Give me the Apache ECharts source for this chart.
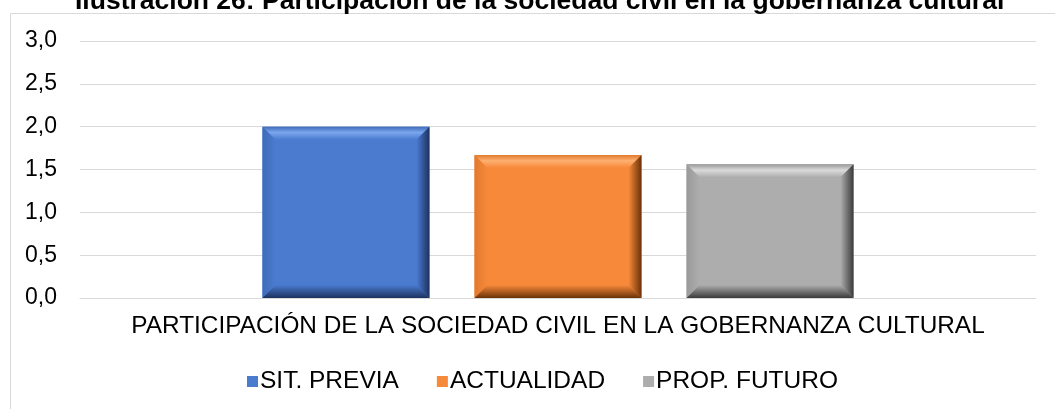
<!DOCTYPE html>
<html>
<head>
<meta charset="utf-8">
<script src="https://cdn.jsdelivr.net/npm/echarts@6/dist/echarts.min.js"></script>
<style>
  html, body { margin: 0; padding: 0; background: #fff; }
  #chart { width: 1055px; height: 409px; }
</style>
</head>
<body>
<div id="chart"></div>
<script>
const titleText = 'Ilustración 26: Participación de la sociedad civil en la gobernanza cultural'
const categories = ['PARTICIPACIÓN DE LA SOCIEDAD CIVIL EN LA GOBERNANZA CULTURAL']
const seriesNames = ['SIT. PREVIA', 'ACTUALIDAD', 'PROP. FUTURO']
const sitPrevia = [2.0]
const actualidad = [1.67]
const propFuturo = [1.56]
const yTicks = [0, 0.5, 1, 1.5, 2, 2.5, 3]

// bevel colours per series: main, light (top), dark (right/bottom), mid (left)
const palettes = [
  { main: '#4a7bcf', light: '#7aa6ee', dark: '#1c3260', mid: '#3f6cb8' },
  { main: '#f7893a', light: '#ffb070', dark: '#6a3208', mid: '#e07a2e' },
  { main: '#adadad', light: '#dadada', dark: '#3a3a3a', mid: '#9a9a9a' }
]

const BAR_FRAC = 0.1747   // bar width as part of the band
const STEP_FRAC = 0.2218  // distance between bar centres
const BEVEL = 13

function grad(x0, y0, x1, y1, stops) {
  return new echarts.graphic.LinearGradient(x0, y0, x1, y1, stops)
}

function bevelBar(idx) {
  const p = palettes[idx]
  return function (params, api) {
    const band = api.size([1, 0])[0]
    const w = band * BAR_FRAC
    const topPt = api.coord([api.value(0), api.value(1)])
    const basePt = api.coord([api.value(0), 0])
    const x0 = topPt[0] + (idx - 1) * band * STEP_FRAC - w / 2
    const x1 = x0 + w
    const y0 = topPt[1]
    const y1 = basePt[1]
    const b = Math.min(BEVEL, (y1 - y0) / 2)
    return {
      type: 'group',
      children: [
        { type: 'rect', shape: { x: x0, y: y0, width: w, height: y1 - y0 }, style: { fill: p.main } },
        { type: 'polygon', shape: { points: [[x0, y0], [x1, y0], [x1 - b, y0 + b], [x0 + b, y0 + b]] },
          style: { fill: grad(0, 0, 0, 1, [{ offset: 0, color: p.mid }, { offset: 0.45, color: p.light }, { offset: 1, color: p.main }]) } },
        { type: 'polygon', shape: { points: [[x0, y0], [x0 + b, y0 + b], [x0 + b, y1 - b], [x0, y1]] },
          style: { fill: grad(0, 0, 1, 0, [{ offset: 0, color: p.mid }, { offset: 1, color: p.main }]) } },
        { type: 'polygon', shape: { points: [[x1, y0], [x1, y1], [x1 - b, y1 - b], [x1 - b, y0 + b]] },
          style: { fill: grad(1, 0, 0, 0, [{ offset: 0, color: p.dark }, { offset: 1, color: p.main }]) } },
        { type: 'polygon', shape: { points: [[x0, y1], [x1, y1], [x1 - b, y1 - b], [x0 + b, y1 - b]] },
          style: { fill: grad(0, 1, 0, 0, [{ offset: 0, color: p.dark }, { offset: 1, color: p.main }]) } }
      ]
    }
  }
}

const chart = echarts.init(document.getElementById('chart'))

const values = [sitPrevia, actualidad, propFuturo]

chart.setOption({
  animation: false,
  color: palettes.map(p => p.main),
  textStyle: { fontFamily: 'Liberation Sans, Arial, sans-serif' },
  title: {
    text: titleText,
    left: 70,
    top: -16,
    textStyle: { fontSize: 26.5, fontWeight: 'bold', color: '#000', lineHeight: 26 }
  },
  graphic: [{
    type: 'rect',
    left: 8,
    top: 11,
    shape: { width: 1100, height: 450 },
    style: { fill: 'none', stroke: '#d9d9d9', lineWidth: 1 },
    silent: true
  }],
  legend: {
    data: seriesNames,
    top: 364,
    left: 242,
    icon: 'rect',
    itemWidth: 11,
    itemHeight: 11,
    itemGap: 38,
    textStyle: { fontSize: 24.5, color: '#000', padding: [0, 0, 0, -3] }
  },
  grid: { left: 80, right: 19, top: 41, bottom: 111 },
  xAxis: {
    type: 'category',
    data: categories,
    axisLine: { lineStyle: { color: '#d9d9d9' } },
    axisTick: { show: false },
    axisLabel: { fontSize: 24.4, color: '#000', margin: 16 }
  },
  yAxis: {
    type: 'value',
    min: yTicks[0],
    max: yTicks[yTicks.length - 1],
    interval: 0.5,
    axisLine: { show: false },
    axisTick: { show: false },
    splitLine: { lineStyle: { color: '#d9d9d9' } },
    axisLabel: {
      fontSize: 23,
      color: '#000',
      margin: 23,
      formatter: v => v.toFixed(1).replace('.', ',')
    }
  },
  series: seriesNames.map((name, i) => ({
    name: name,
    type: 'custom',
    renderItem: bevelBar(i),
    encode: { x: 0, y: 1 },
    data: values[i].map((v, j) => [j, v])
  }))
})
</script>
</body>
</html>
